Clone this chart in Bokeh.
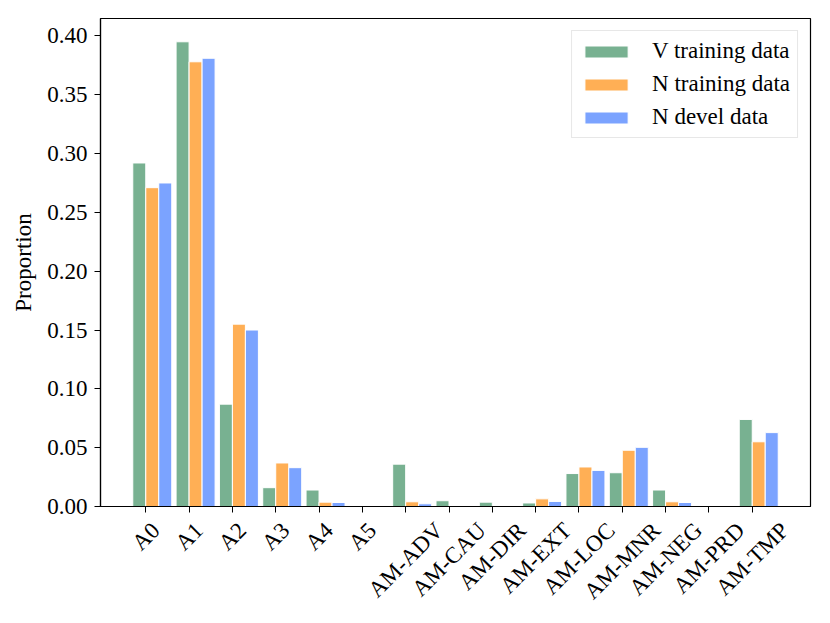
import math
from bokeh.plotting import figure
from bokeh.models import (FixedTicker, NumeralTickFormatter, Range1d, Legend, LegendItem,
                          LinearAxis)
from bokeh.embed import file_html
from bokeh.resources import INLINE

categories = ["A0", "A1", "A2", "A3", "A4", "A5", "AM-ADV", "AM-CAU", "AM-DIR",
              "AM-EXT", "AM-LOC", "AM-MNR", "AM-NEG", "AM-PRD", "AM-TMP"]
v_train = [0.292, 0.395, 0.087, 0.016, 0.014, 0.0, 0.036, 0.0049, 0.0037,
           0.003, 0.028, 0.0287, 0.014, 0.0, 0.074]
n_train = [0.271, 0.378, 0.155, 0.037, 0.0037, 0.0, 0.004, 0.0, 0.0,
           0.0065, 0.0336, 0.0478, 0.004, 0.0, 0.055]
n_devel = [0.275, 0.381, 0.150, 0.033, 0.0034, 0.0, 0.0023, 0.0, 0.0,
           0.0043, 0.0307, 0.0503, 0.0034, 0.0, 0.0628]
series_names = ["V training data", "N training data", "N devel data"]
colors = ["#78B191", "#FFAF55", "#7BA3FF"]
y_ticks = [0.0, 0.05, 0.10, 0.15, 0.20, 0.25, 0.30, 0.35, 0.40]

FONT = "Liberation Serif"
FS_PX = 23
FS = f"{FS_PX}px"
idx = list(range(len(categories)))
bw = 0.3
X0, X1 = -1.045, 15.345
FRAME_W = 710

p = figure(width=822, height=615, output_backend="svg", toolbar_location=None,
           x_range=Range1d(X0, X1), y_range=Range1d(0, 0.4148),
           min_border_left=100, min_border_right=12, min_border_top=18,
           min_border_bottom=109)

items = []
for k, (vals, name, col) in enumerate(zip([v_train, n_train, n_devel], series_names, colors)):
    xs = [i - bw / 2 + k * bw for i in idx]
    r = p.vbar(x=xs, top=vals, width=bw, bottom=0, fill_color=col,
               line_color="white", line_width=1)
    items.append(LegendItem(label=name, renderers=[r]))

legend = Legend(items=items, location="top_right", label_text_font=FONT,
                label_text_font_size=FS, label_text_color="black",
                glyph_width=54, glyph_height=15,
                spacing=7, padding=7, margin=12, border_line_color="#d0d0d0",
                border_line_width=1, label_standoff=19)
p.add_layout(legend, "center")

# main x axis: tick marks only
p.xaxis.ticker = FixedTicker(ticks=idx)
p.xaxis.major_label_overrides = {i: "" for i in idx}
p.xaxis.major_label_standoff = 0
p.yaxis.ticker = FixedTicker(ticks=y_ticks)
p.yaxis.formatter = NumeralTickFormatter(format="0.00")
p.yaxis.axis_label = "Proportion"

for ax in [p.xaxis[0], p.yaxis[0]]:
    ax.major_label_text_font = FONT
    ax.major_label_text_font_size = FS
    ax.major_label_text_color = "black"
    ax.axis_label_text_font = FONT
    ax.axis_label_text_font_size = FS
    ax.axis_label_text_font_style = "normal"
    ax.axis_label_text_color = "black"
    ax.major_tick_out = 6
    ax.major_tick_in = 0
    ax.minor_tick_out = 0
    ax.minor_tick_in = 0
    ax.axis_line_color = "black"
    ax.major_tick_line_color = "black"
    ax.axis_line_width = 1.2
p.yaxis.major_label_standoff = 7
p.yaxis.axis_label_standoff = 8

# category labels: rotated 45 deg and centred under each tick (matplotlib ha='center').
# Bokeh anchors rotated labels at their right end, so the label positions are shifted
# right by half the rotated text length.
W = {"A": .722, "M": .889, "-": .333, "D": .722, "V": .722, "C": .667, "U": .722,
     "I": .333, "R": .667, "E": .611, "X": .722, "T": .611, "L": .611, "O": .722,
     "N": .722, "G": .722, "P": .556}
px_per_unit = FRAME_W / (X1 - X0)
label_pos = []
for i, c in zip(idx, categories):
    L = sum(W.get(ch, 0.5) for ch in c) * FS_PX
    label_pos.append(round(i + 0.354 * L / px_per_unit, 4))
lab_axis = LinearAxis(ticker=FixedTicker(ticks=label_pos),
                      major_label_overrides={pos: c for pos, c in zip(label_pos, categories)},
                      major_label_orientation=math.pi / 4,
                      major_label_text_font=FONT, major_label_text_font_size=FS,
                      major_label_text_color="black", major_label_standoff=14,
                      axis_line_color=None, major_tick_line_color=None,
                      minor_tick_line_color=None, major_tick_out=0, major_tick_in=0,
                      minor_tick_out=0, minor_tick_in=0)
p.add_layout(lab_axis, "below")

p.xgrid.visible = False
p.ygrid.visible = False
p.outline_line_color = "black"
p.outline_line_width = 1.2

open("out.html", "w").write(file_html(p, INLINE))
